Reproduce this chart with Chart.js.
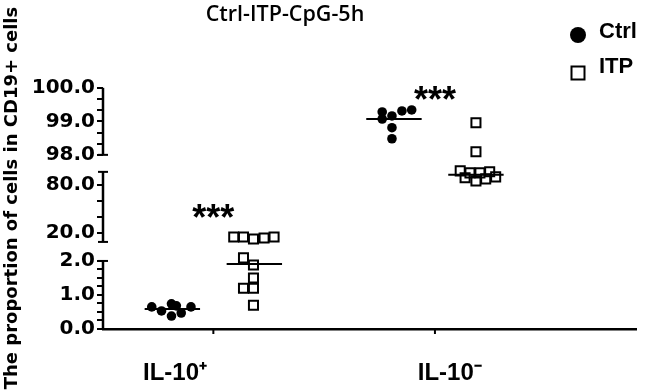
<!DOCTYPE html>
<html>
<head>
<meta charset="utf-8">
<script src="https://cdn.jsdelivr.net/npm/chart.js@4.4.1/dist/chart.umd.min.js"></script>
<style>
  html, body { margin:0; padding:0; background:#fff; }
</style>
</head>
<body>
<canvas id="myChart" width="645" height="390"></canvas>
<script>
// valores
var groups = ["IL-10\u207A", "IL-10\u207B"];
var seriesNames = ["Ctrl", "ITP"];
var chartTitle = "Ctrl-ITP-CpG-5h";
var yTitle = "The proportion of cells in CD19+ cells";

var ctrlPos = [0.65, 0.53, 0.74, 0.68, 0.38, 0.47, 0.65];
var ctrlPosSpread = [-0.093, -0.049, -0.004, 0.018, -0.004, 0.04, 0.084];
var itpPos = [15.0, 15.0, 12.5, 13.75, 15.0, 2.09, 1.88, 1.5, 1.2, 1.2, 0.7];
var itpPosSpread = [-0.093, -0.049, -0.004, 0.044, 0.089, -0.049, -0.004, -0.004, -0.049, -0.004, -0.004];
var ctrlNeg = [99.28, 99.07, 99.16, 99.31, 99.34, 98.81, 98.48];
var ctrlNegSpread = [-0.053, -0.053, -0.009, 0.036, 0.08, -0.009, -0.009];
var itpNeg = [98.96, 98.09, 97.5, 95.0, 95.0, 96.3, 88.8, 85.0, 87.5, 90.0];
var itpNegSpread = [0, 0, -0.071, -0.027, 0.018, 0.062, -0.049, 0, 0.044, 0.089];

var ctrlMedians = [0.59, 99.07];
var itpMedians = [1.91, 92.5];

var sigText = ["***", "***"];
var sigValue = [48.75, 99.88];

var yMajorTicks = [0, 1, 2, 20, 80, 98, 99, 100];
var yMinorTicks = [0.25, 0.5, 0.75, 1.25, 1.5, 1.75, 40, 60, 98.333, 98.667, 99.333, 99.667];

// eje cortado: tramos del eje (valor -> unidad de dibujo)
var segs = [
  {from: 0, to: 2, dFrom: 0, dTo: 2, capTop: true, capBottom: false},
  {from: 8.75, to: 96.25, dFrom: 2.559, dTo: 4.618, capTop: true, capBottom: true},
  {from: 98, to: 100, dFrom: 5.118, dTo: 7.088, capTop: false, capBottom: true}
];
function toD(v){
  var s = v <= 5 ? segs[0] : (v < 97.75 ? segs[1] : segs[2]);
  return s.dFrom + (v - s.from) * (s.dTo - s.dFrom) / (s.to - s.from);
}

var groupX = [1, 2];
var offX = [-0.185, 0.185];
var labelX = [0.827, 2.067];

function pts(vals, spread, g, k){
  return vals.map(function(v, i){ return {x: groupX[g] + offX[k] + spread[i], y: toD(v)}; });
}

var allY = yMajorTicks.concat(yMinorTicks).sort(function(a,b){ return a-b; });

var datasets = [
  {type:'scatter', label: seriesNames[0], data: pts(ctrlPos, ctrlPosSpread, 0, 0).concat(pts(ctrlNeg, ctrlNegSpread, 1, 0)),
   pointStyle:'circle', pointRadius:4.8, backgroundColor:'#000', borderColor:'#000', borderWidth:0},
  {type:'scatter', label: seriesNames[1], data: pts(itpPos, itpPosSpread, 0, 1).concat(pts(itpNeg, itpNegSpread, 1, 1)),
   pointStyle:'rect', pointRadius:6.4, backgroundColor:'rgba(255,255,255,0)', borderColor:'#000', borderWidth:2}
];
[ctrlMedians, itpMedians].forEach(function(m, k){
  m.forEach(function(v, g){
    var c = groupX[g] + offX[k];
    datasets.push({type:'line', label:'', data:[{x:c-0.125, y:toD(v)}, {x:c+0.125, y:toD(v)}],
      borderColor:'#000', borderWidth:2, pointRadius:0, fill:false});
  });
});

var extras = {
  id: 'extras',
  afterDraw: function(chart){
    var ctx = chart.ctx, ys = chart.scales.y, xs = chart.scales.x, left = chart.chartArea.left;
    ctx.save();
    ctx.strokeStyle = '#000';
    ctx.lineWidth = 2.5;
    segs.forEach(function(s){
      var top = ys.getPixelForValue(s.dTo), bot = ys.getPixelForValue(s.dFrom);
      ctx.beginPath(); ctx.moveTo(left, top); ctx.lineTo(left, bot); ctx.stroke();
      ctx.lineWidth = 2;
      if (s.capTop){ ctx.beginPath(); ctx.moveTo(left-5, top); ctx.lineTo(left+5, top); ctx.stroke(); }
      if (s.capBottom){ ctx.beginPath(); ctx.moveTo(left-5, bot); ctx.lineTo(left+5, bot); ctx.stroke(); }
      ctx.lineWidth = 2.5;
    });
    // marcas del eje x
    ctx.lineWidth = 2;
    groupX.forEach(function(g){
      var px = xs.getPixelForValue(g);
      ctx.beginPath(); ctx.moveTo(px, chart.chartArea.bottom); ctx.lineTo(px, chart.chartArea.bottom + 5); ctx.stroke();
    });
    // asteriscos
    ctx.fillStyle = '#000';
    ctx.font = 'bold 36px "Liberation Sans", Arial, sans-serif';
    ctx.textAlign = 'center';
    ctx.textBaseline = 'alphabetic';
    sigText.forEach(function(t, g){
      ctx.fillText(t, xs.getPixelForValue(groupX[g]), ys.getPixelForValue(toD(sigValue[g])) + 20);
    });
    // titulo
    ctx.font = '600 21.5px "Open Sans", Lato, sans-serif';
    ctx.textBaseline = 'middle';
    ctx.fillText(chartTitle, 285, 15);
    // leyenda
    ctx.beginPath(); ctx.arc(578, 35, 8, 0, Math.PI*2); ctx.fill();
    ctx.lineWidth = 2;
    ctx.strokeRect(571.5, 66.5, 13, 13);
    ctx.font = 'bold 22px "Liberation Sans", Arial, sans-serif';
    ctx.textAlign = 'left';
    ctx.fillText(seriesNames[0], 599, 32);
    ctx.fillText(seriesNames[1], 599, 67);
    ctx.restore();
  }
};

var ctx = document.getElementById('myChart').getContext('2d');
var myChart = new Chart(ctx, {
  data: { datasets: datasets },
  options: {
    responsive: false,
    animation: false,
    devicePixelRatio: 1,
    layout: { padding: { top: 67, bottom: 0, left: 0, right: 0 } },
    plugins: { legend: { display: false }, tooltip: { enabled: false }, title: { display: false } },
    scales: {
      x: {
        type: 'linear', min: 0.502, max: 2.91,
        afterFit: function(s){ s.height = 61; },
        afterBuildTicks: function(s){ s.ticks = labelX.map(function(v){ return {value: v}; }); },
        ticks: { autoSkip: false, maxRotation: 0, padding: 30, color: '#000',
          font: { family: '"Liberation Sans", Arial, sans-serif', weight: 'bold', size: 24 },
          callback: function(v, i){ return groups[i]; } },
        grid: { display: false, drawTicks: false },
        border: { display: true, color: '#000', width: 2.5 }
      },
      y: {
        type: 'linear', min: 0, max: 7.7,
        afterFit: function(s){ s.width = 103; },
        afterBuildTicks: function(s){ s.ticks = allY.map(function(v){ return {value: toD(v)}; }); },
        ticks: { autoSkip: false, padding: 2, color: '#000',
          font: { family: '"DejaVu Sans", sans-serif', weight: 'bold', size: 20 },
          callback: function(v, i){ return yMajorTicks.indexOf(allY[i]) >= 0 ? allY[i].toFixed(1) : ''; } },
        grid: { display: true, drawOnChartArea: false, drawTicks: true, tickLength: 6, color: '#000', lineWidth: 2 },
        border: { display: false },
        title: { display: true, text: yTitle, color: '#000', padding: { top: 2, bottom: 0 },
          font: { family: '"DejaVu Sans", sans-serif', weight: 'bold', size: 18 } }
      }
    }
  },
  plugins: [extras]
});
</script>
</body>
</html>
